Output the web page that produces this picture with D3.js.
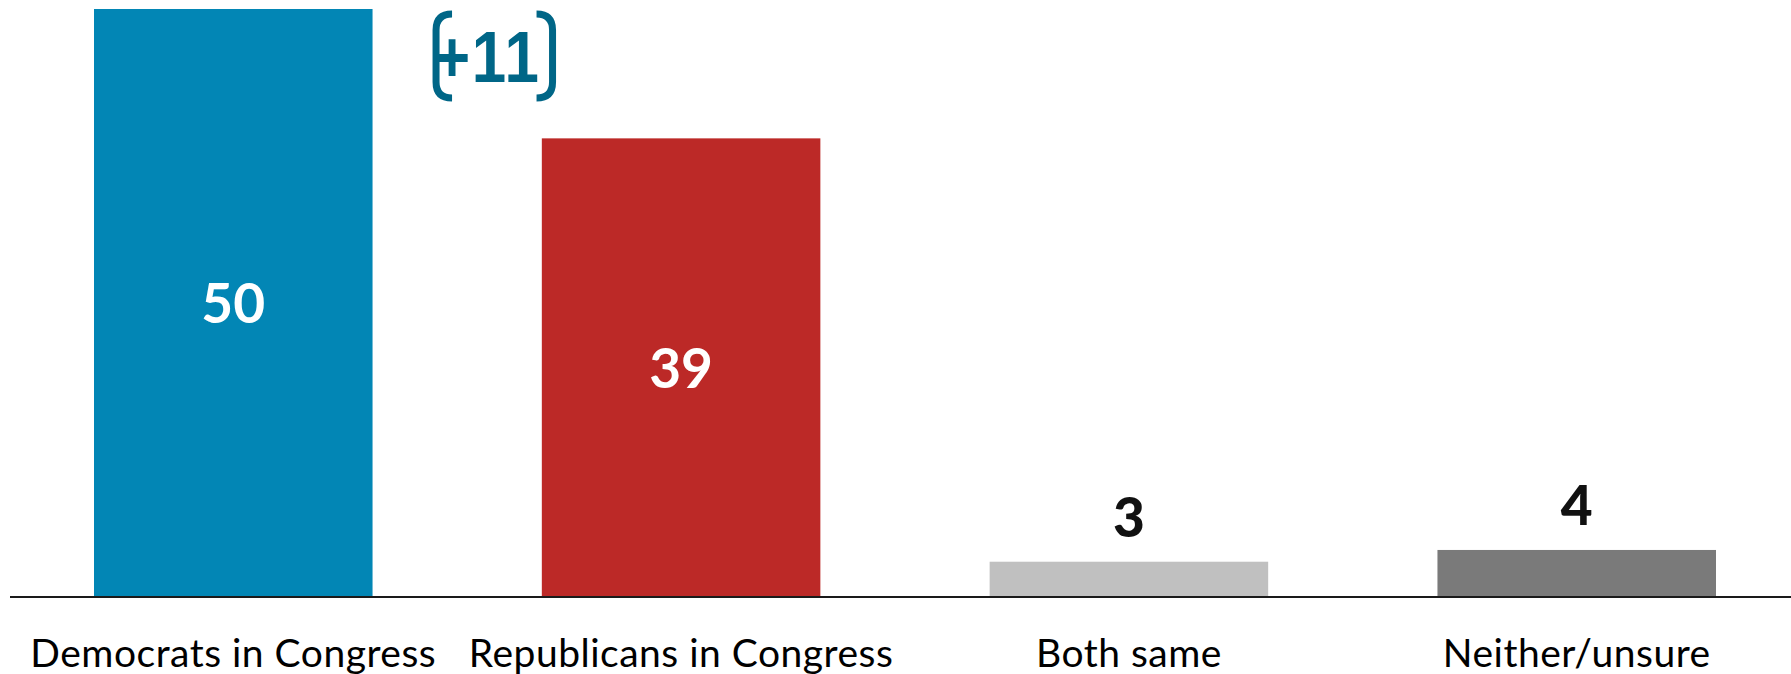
<!DOCTYPE html>
<html>
<head>
<meta charset="utf-8">
<script src="https://cdn.jsdelivr.net/npm/d3@7"></script>
<style>
  html, body { margin: 0; padding: 0; background: #fff; }
  svg { display: block; }
</style>
</head>
<body>
<svg id="chart" width="1791" height="674"></svg>
<script>
// Who is trusted more: share of respondents per answer
const categories = ["Democrats in Congress", "Republicans in Congress", "Both same", "Neither/unsure"];
const values = [50, 39, 3, 4];
const barColors = ["#0286b5", "#bc2927", "#c0c0c0", "#7a7a7a"];
const labelColors = ["#ffffff", "#ffffff", "#111111", "#111111"];
const insideLabel = [true, true, false, false];
const leadText = "+11";

const W = 1791, H = 674;
const svg = d3.select("#chart");

const x = d3.scaleBand()
  .domain(categories)
  .range([94, 1716])
  .paddingInner(0.378)
  .paddingOuter(0);

const y = d3.scaleLinear()
  .domain([0, 50])
  .range([597, 9]);

const data = categories.map((c, i) => ({
  cat: c, value: values[i], color: barColors[i], lc: labelColors[i], inside: insideLabel[i]
}));

// bars
svg.append("g").selectAll("rect")
  .data(data)
  .join("rect")
  .attr("x", d => x(d.cat))
  .attr("y", d => y(d.value))
  .attr("width", x.bandwidth())
  .attr("height", d => y(0) - y(d.value))
  .attr("fill", d => d.color);

// baseline
svg.append("line")
  .attr("x1", 10).attr("x2", W)
  .attr("y1", y(0)).attr("y2", y(0))
  .attr("stroke", "#1a1a1a")
  .attr("stroke-width", 2);

// value labels: centred inside tall bars, above short ones
svg.append("g").selectAll("text")
  .data(data)
  .join("text")
  .attr("x", d => x(d.cat) + x.bandwidth() / 2)
  .attr("y", d => d.inside ? (y(d.value) + y(0)) / 2 + 20 : y(d.value) - 25)
  .attr("text-anchor", "middle")
  .attr("font-family", "Lato, 'Open Sans', sans-serif")
  .attr("font-weight", d => d.inside ? 700 : 900)
  .attr("font-size", 55)
  .attr("fill", d => d.lc)
  .text(d => d.value);

// category axis labels
svg.append("g").selectAll("text")
  .data(data)
  .join("text")
  .attr("x", d => x(d.cat) + x.bandwidth() / 2)
  .attr("y", 667)
  .attr("text-anchor", "middle")
  .attr("font-family", "Lato, 'Open Sans', sans-serif")
  .attr("font-size", 39)
  .attr("letter-spacing", 0.5)
  .attr("fill", "#000")
  .text(d => d.cat);

// bracketed lead annotation beside the leading bar
const ax = x(categories[0]) + x.bandwidth();
const bTop = y(values[0]) + 5, bBot = y(values[0]) + 89;
const lx = ax + 63.5, rx = ax + 180, r = 16;
const lead = svg.append("g");
lead.append("path")
  .attr("d", `M${lx + r},${bTop} Q${lx},${bTop} ${lx},${bTop + r} L${lx},${bBot - r} Q${lx},${bBot} ${lx + r},${bBot}`)
  .attr("fill", "none").attr("stroke", "#006687").attr("stroke-width", 7);
lead.append("path")
  .attr("d", `M${rx - r},${bTop} Q${rx},${bTop} ${rx},${bTop + r} L${rx},${bBot - r} Q${rx},${bBot} ${rx - r},${bBot}`)
  .attr("fill", "none").attr("stroke", "#006687").attr("stroke-width", 7);
lead.append("text")
  .attr("transform", `translate(${(lx + rx) / 2 - 7},${y(values[0]) + 73}) scale(0.86,1)`)
  .attr("text-anchor", "middle")
  .attr("font-family", "'Liberation Sans', Arial, sans-serif")
  .attr("font-weight", 700)
  .attr("font-size", 72)
  .attr("letter-spacing", 2)
  .attr("fill", "#006687")
  .text(leadText);
</script>
</body>
</html>
